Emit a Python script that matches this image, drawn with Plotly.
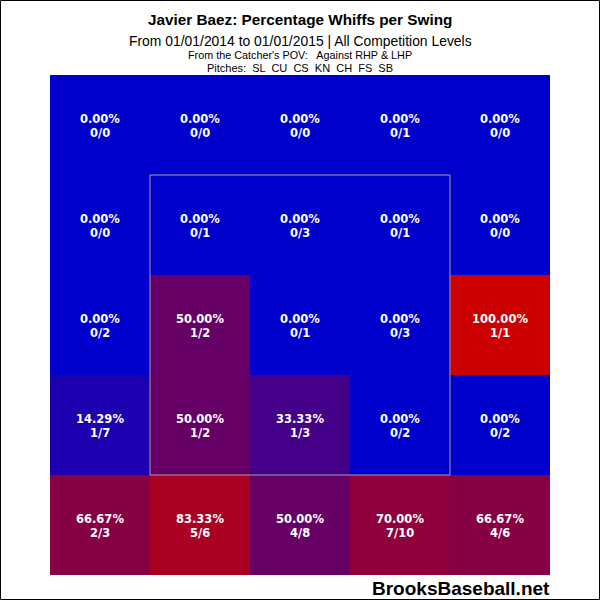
import plotly.graph_objects as go

# Whiffs and swings per zone, catcher's view, rows from top to bottom
whiffs = [
    [0, 0, 0, 0, 0],
    [0, 0, 0, 0, 0],
    [0, 1, 0, 0, 1],
    [1, 1, 1, 0, 0],
    [2, 5, 4, 7, 4],
]
swings = [
    [0, 0, 0, 1, 0],
    [0, 1, 3, 1, 0],
    [2, 2, 1, 3, 1],
    [7, 2, 3, 2, 2],
    [3, 6, 8, 10, 6],
]

pct = [[w / s if s else 0.0 for w, s in zip(wr, sr)] for wr, sr in zip(whiffs, swings)]

fig = go.Figure(go.Heatmap(
    z=pct,
    colorscale=[[0, "rgb(0,0,204)"], [1, "rgb(204,0,0)"]],
    zmin=0, zmax=1,
    showscale=False,
    hoverinfo="skip",
))

cell_font = dict(family="DejaVu Sans", size=11.5, color="white", weight="bold")
for r in range(5):
    for c in range(5):
        fig.add_annotation(x=c, y=r, text=f"{pct[r][c] * 100:.2f}%", showarrow=False,
                           yshift=6, font=cell_font)
        fig.add_annotation(x=c, y=r, text=f"{whiffs[r][c]}/{swings[r][c]}", showarrow=False,
                           yshift=-8, font=cell_font)

# strike zone
fig.add_shape(type="rect", x0=0.5, x1=3.5, y0=0.5, y1=3.5,
              line=dict(color="rgb(160,160,160)", width=1))
# outer border
fig.add_shape(type="rect", xref="paper", yref="paper",
              x0=-0.099, x1=1.099, y0=-0.049, y1=1.149,
              line=dict(color="black", width=1))

font = "Liberation Sans"
titles = [
    ("<b>Javier Baez: Percentage Whiffs per Swing</b>", 1.11, 15.3),
    ("From 01/01/2014 to 01/01/2015 | All Competition Levels", 1.068, 13.9),
    ("From the Catcher's POV:   Against RHP & LHP", 1.04, 10.8),
    ("Pitches:  SL  CU  CS  KN  CH  FS  SB", 1.014, 11),
]
for txt, yy, sz in titles:
    fig.add_annotation(text=txt, x=0.5, y=yy, xref="paper", yref="paper",
                       showarrow=False, yanchor="middle",
                       font=dict(family=font, size=sz, color="black"))
fig.add_annotation(text="<b>BrooksBaseball.net</b>",
                   x=1.004, y=-0.026, xref="paper", yref="paper", showarrow=False,
                   xanchor="right", yanchor="middle",
                   font=dict(family=font, size=19, color="black"))

fig.update_xaxes(visible=False, range=[-0.5, 4.5], showgrid=False, zeroline=False)
fig.update_yaxes(visible=False, range=[4.5, -0.5], showgrid=False, zeroline=False)
fig.update_layout(
    width=600, height=600,
    margin=dict(l=50, r=50, t=75, b=25),
    plot_bgcolor="white", paper_bgcolor="white",
)

fig.write_html("out.html", config={"displayModeBar": False},
               post_script="document.body.style.margin = '0px';")
